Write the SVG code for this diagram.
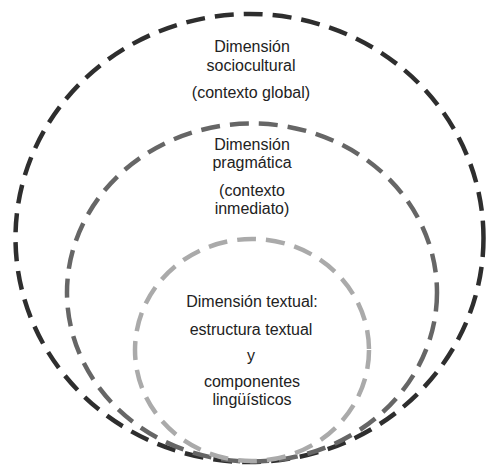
<svg xmlns="http://www.w3.org/2000/svg" width="486" height="465" viewBox="0 0 486 465">
<style>
.ring{fill:none;stroke-dasharray:19 10;}
.t{font-family:"Liberation Sans",Arial,sans-serif;font-size:16px;fill:#222;text-anchor:middle;}
</style>
<rect width="486" height="465" fill="#fff"/>
<g id="outer">
<ellipse class="ring" cx="249.5" cy="238" rx="234" ry="224" stroke="#2e2e2e" stroke-width="4.5"/>
<text class="t" x="252" y="52">Dimensión</text>
<text class="t" x="251" y="71">sociocultural</text>
<text class="t" x="251" y="98">(contexto global)</text>
</g>
<g id="middle">
<ellipse class="ring" cx="252" cy="292.5" rx="185" ry="169" stroke="#666" stroke-width="4.5"/>
<text class="t" x="252" y="150">Dimensión</text>
<text class="t" x="252" y="168">pragmática</text>
<text class="t" x="252" y="196">(contexto</text>
<text class="t" x="252" y="214">inmediato)</text>
</g>
<g id="inner">
<ellipse class="ring" cx="252" cy="350" rx="117" ry="111" stroke="#aaa" stroke-width="4.5"/>
<text class="t" x="252" y="307">Dimensión textual:</text>
<text class="t" x="251" y="335">estructura textual</text>
<text class="t" x="251" y="361">y</text>
<text class="t" x="252" y="387">componentes</text>
<text class="t" x="252" y="405">lingüísticos</text>
</g>
</svg>
